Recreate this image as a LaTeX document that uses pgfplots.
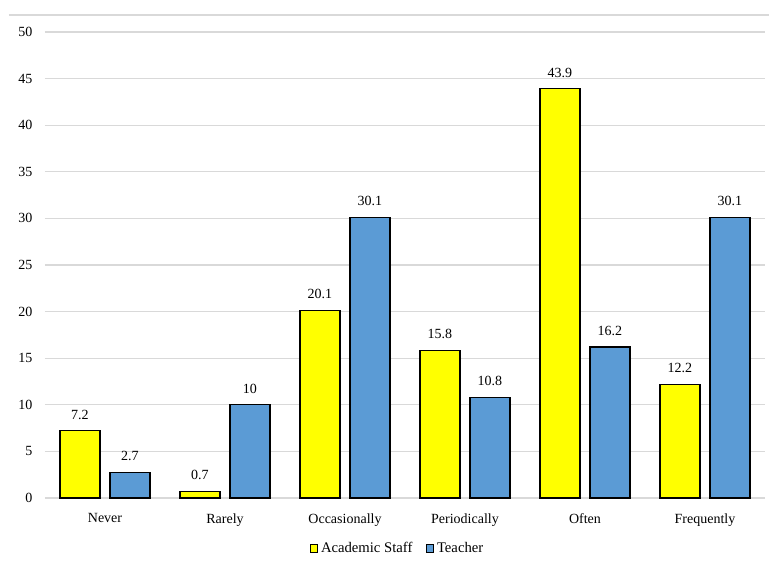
\documentclass[border=0pt]{standalone}
\usepackage{fontspec}
\setmainfont{Liberation Serif}
\usepackage{pgfplots}
\pgfplotsset{compat=1.18}
\definecolor{ybar}{HTML}{FFFF00}
\definecolor{bbar}{HTML}{5B9BD5}
\definecolor{gridc}{HTML}{D9D9D9}
\begin{document}
\begin{tikzpicture}
\begin{axis}[
  name=ax,
  scale only axis, width=540pt, height=349.5pt,
  ybar, bar width=30pt,
  xmin=-0.5, xmax=5.5, ymin=0, ymax=50,
  ytick={0,5,...,50},
  xtick=data,
  xticklabels={Never,Rarely,Occasionally,Periodically,Often,Frequently},
  axis line style={draw=none},
  major tick length=0pt,
  ymajorgrids, grid style={gridc, line width=0.8pt},
  tick label style={font=\fontsize{10.5}{12}\selectfont},
  /pgf/number format/assume math mode=true,
  yticklabel style={xshift=-6pt},
  xticklabel style={yshift=-8pt},
  nodes near coords,
  nodes near coords style={font=\fontsize{10.5}{12}\selectfont, yshift=5pt},
  point meta=explicit symbolic,
  legend style={draw=none, at={(0.49,-0.083)}, anchor=north, legend columns=2,
    font=\fontsize{11}{12}\selectfont, /tikz/every even column/.append style={column sep=8pt}},
  legend image code/.code={\draw[#1, draw=black] (0cm,-0.1cm) rectangle (0.2cm,0.1cm);},
  clip=false,
]
\addplot[fill=ybar, draw=black, line width=0.8pt, bar shift=-18.75pt] coordinates {
 (0,7.2)[7.2] (1,0.7)[0.7] (2,20.1)[20.1] (3,15.8)[15.8] (4,43.9)[43.9] (5,12.2)[12.2]};
\addplot[fill=bbar, draw=black, line width=0.8pt, bar shift=18.75pt] coordinates {
 (0,2.7)[2.7] (1,10)[10] (2,30.1)[30.1] (3,10.8)[10.8] (4,16.2)[16.2] (5,30.1)[30.1]};
\legend{Academic Staff, Teacher}
\end{axis}
\pgfresetboundingbox
\path[use as bounding box] ([xshift=-33.75pt, yshift=-48pt]ax.south west) rectangle ++(576.75pt,421.5pt);
\draw[gridc, line width=1.2pt] ([xshift=-27pt, yshift=12.75pt]ax.north west) -- ++(570pt,0);
\end{tikzpicture}
\end{document}
